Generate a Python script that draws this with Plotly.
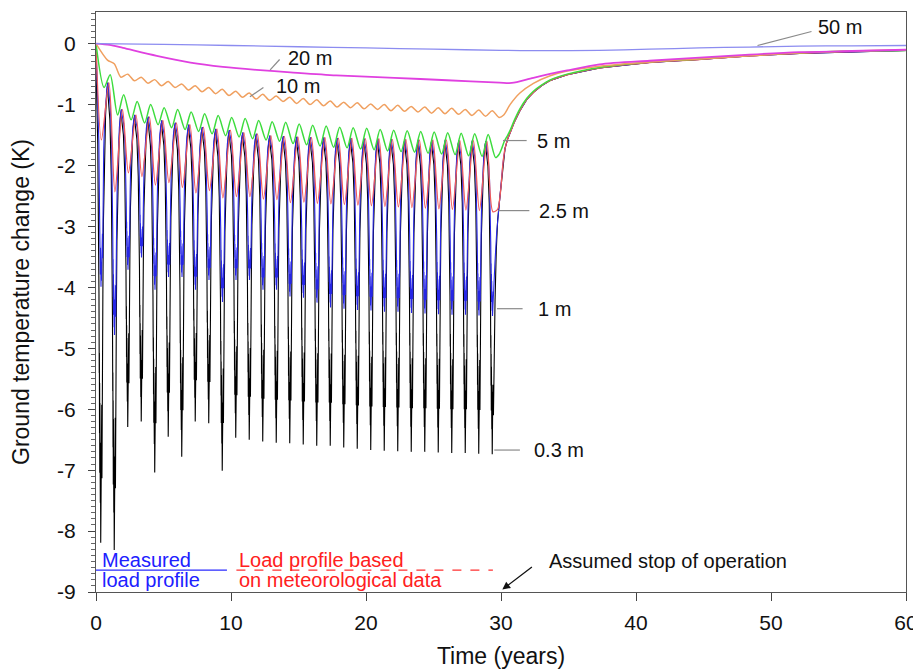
import plotly.graph_objects as go

# ---------------- data ----------------
# yearly winter minima (0.3 m and 1 m depth)
d03_trough = [-8.19, -8.31, -6.29, -6.20, -7.04, -6.45, -6.78, -6.20, -6.23, -7.01,
              -6.47, -6.50, -6.53, -6.55, -6.56, -6.58, -6.60, -6.60, -6.63, -6.65,
              -6.67, -6.68, -6.69, -6.70, -6.70, -6.71, -6.72, -6.72, -6.73, -6.74]
d1_trough = [-3.99, -4.78, -3.71, -3.51, -4.04, -3.83, -3.83, -4.04, -3.88, -4.24,
             -3.88, -3.88, -4.04, -4.04, -4.15, -4.17, -4.25, -4.33, -4.35, -4.37,
             -4.38, -4.40, -4.40, -4.42, -4.43, -4.44, -4.45, -4.45, -4.46, -4.47]
# 2.5 m: summer maxima (also the tops of the shallow curves) and winter minima
d25_peak = [-0.64, -1.08, -1.17, -1.20, -1.26, -1.30, -1.33, -1.37, -1.40, -1.42,
            -1.46, -1.48, -1.51, -1.52, -1.53, -1.54, -1.54, -1.55, -1.55, -1.56,
            -1.56, -1.57, -1.57, -1.58, -1.58, -1.58, -1.59, -1.59, -1.60]
d25_trough = [-1.58, -2.43, -2.12, -2.18, -2.32, -2.28, -2.36, -2.45, -2.41, -2.53,
              -2.51, -2.51, -2.55, -2.56, -2.61, -2.60, -2.62, -2.63, -2.64, -2.65,
              -2.66, -2.67, -2.68, -2.69, -2.70, -2.71, -2.72, -2.73, -2.74, -2.76]
# 5 m
d5_trough = [-0.72, -1.17, -1.25, -1.30, -1.33, -1.38, -1.41, -1.44, -1.48, -1.51,
             -1.53, -1.56, -1.58, -1.60, -1.64, -1.66, -1.68, -1.70, -1.71, -1.73,
             -1.74, -1.76, -1.77, -1.78, -1.80, -1.81, -1.82, -1.84, -1.85, -1.87]
d5_peak = [-0.51, -0.84, -0.95, -1.00, -1.05, -1.08, -1.12, -1.15, -1.18, -1.21,
           -1.23, -1.26, -1.28, -1.29, -1.32, -1.34, -1.35, -1.37, -1.38, -1.39,
           -1.41, -1.42, -1.43, -1.44, -1.45, -1.46, -1.47, -1.48, -1.49]
# 10 m
d10_trough = [-0.27, -0.55, -0.61, -0.65, -0.69, -0.72, -0.76, -0.79, -0.82, -0.85,
              -0.88, -0.91, -0.93, -0.95, -0.98, -1.00, -1.02, -1.04, -1.05, -1.07,
              -1.08, -1.10, -1.11, -1.12, -1.14, -1.15, -1.16, -1.18, -1.19, -1.21]
d10_peak = [-0.33, -0.50, -0.55, -0.59, -0.62, -0.66, -0.69, -0.72, -0.75, -0.78,
            -0.81, -0.83, -0.86, -0.88, -0.90, -0.92, -0.94, -0.96, -0.97, -0.99,
            -1.00, -1.01, -1.03, -1.04, -1.05, -1.06, -1.08, -1.09, -1.10]

# timing of the seasonal extremes within a year (years after start of each year)
phase_d03_min, phase_d1_min, phase_surf_max = 0.35, 0.37, 0.88
phase_d25_min, phase_d25_max = 0.40, 0.96
phase_d5_min, phase_d5_max = 0.60, 1.05
phase_d10_min, phase_d10_max = 0.85, 0.35

# shape of a winter spike of the shallow curves (time offset, share of the drop)
spike_dt = [-0.45, -0.32, -0.22, -0.16, -0.13, -0.11, -0.10, -0.09, -0.08, -0.07,
            -0.06, -0.05, -0.04, -0.03, -0.02, 0.0, 0.015, 0.03, 0.045, 0.06, 0.075,
            0.09, 0.105, 0.12, 0.135, 0.16, 0.20, 0.27, 0.36, 0.45]
spike_frac_d03 = [0.03, 0.08, 0.20, 0.35, 0.50, 0.66, 0.62, 0.78, 0.68, 0.86,
                  0.72, 0.90, 0.76, 0.92, 0.80, 1.0, 0.82, 0.93, 0.74, 0.90, 0.70,
                  0.86, 0.66, 0.80, 0.60, 0.45, 0.30, 0.16, 0.07, 0.02]
spike_frac_d1 = [0.03, 0.09, 0.22, 0.40, 0.58, 0.74, 0.70, 0.85, 0.76, 0.92,
                 0.80, 0.95, 0.84, 0.97, 0.86, 1.0, 0.88, 0.97, 0.82, 0.94, 0.78,
                 0.92, 0.74, 0.86, 0.66, 0.50, 0.33, 0.18, 0.08, 0.02]

# end of operation / recovery
d03_end_t = [29.40, 29.44, 29.49, 29.56, 29.65, 29.75, 29.88]
d03_end_v = [-5.6, -6.1, -5.0, -4.2, -3.4, -2.9, -2.6]
d1_end_t = [29.45, 29.55, 29.68, 29.78, 29.88]
d1_end_v = [-4.0, -3.6, -3.1, -2.85, -2.6]
d25_end_t = [29.75, 29.9]
d25_end_v = [-2.72, -2.55]
rec_t = [30.0, 30.15, 30.3, 30.5, 30.7, 31.0, 31.4, 31.9, 32.4, 33.0, 33.6, 34.9,
         37.3, 41.0, 44.7, 48.4, 52.1, 56.0, 60.0]
rec_v = [-2.35, -1.95, -1.72, -1.56, -1.45, -1.28, -1.10, -0.92, -0.80, -0.69, -0.61,
         -0.51, -0.40, -0.31, -0.26, -0.20, -0.16, -0.13, -0.11]
d5_end_t = [29.85, 30.05, 30.25, 30.5, 30.7, 31.0, 31.4, 31.9, 32.4, 33.0, 33.6, 34.9,
            37.3, 41.0, 44.7, 48.4, 52.1, 56.0, 60.0]
d5_end_v = [-1.82, -1.72, -1.60, -1.50, -1.41, -1.25, -1.07, -0.90, -0.78, -0.68, -0.60,
            -0.50, -0.39, -0.30, -0.25, -0.19, -0.15, -0.12, -0.11]
d10_end_t = [30.2, 30.67, 31.4, 32.4, 33.6, 34.9, 37.3, 41.0, 44.7, 48.4, 52.1, 56.0, 60.0]
d10_end_v = [-1.17, -1.00, -0.81, -0.65, -0.53, -0.45, -0.37, -0.30, -0.25, -0.20, -0.15,
             -0.12, -0.10]
d20_t = [0, 1, 2, 4.5, 7, 9.4, 11.9, 14.4, 17.8, 22.1, 26, 29.9, 30.8, 32.4, 34.9, 37.3,
         41, 44.7, 48.4, 52.1, 56, 60]
d20_v = [0, -0.02, -0.07, -0.20, -0.31, -0.38, -0.43, -0.47, -0.52, -0.56, -0.60, -0.64,
         -0.645, -0.56, -0.44, -0.34, -0.28, -0.23, -0.18, -0.14, -0.12, -0.10]
d50_t = [0, 5, 10, 15, 20, 25, 30, 33, 37.3, 41, 44.7, 48.4, 52.1, 56, 60]
d50_v = [0, -0.01, -0.03, -0.05, -0.07, -0.09, -0.11, -0.115, -0.11, -0.09, -0.07,
         -0.055, -0.04, -0.035, -0.03]

labels = ["0.3 m", "1 m", "2.5 m", "5 m", "10 m", "20 m", "50 m"]
x_ticks = [0, 10, 20, 30, 40, 50, 60]
y_ticks = [0, -1, -2, -3, -4, -5, -6, -7, -8, -9]


# ---------------- build the series ----------------
def spiky(troughs, t_min, fracs, peaks, t_max, end_t, end_v):
    t, v = [0.0], [0.0]
    n = len(troughs)
    for k, T in enumerate(troughs):
        tk = k + t_min
        prev = 0.0 if k == 0 else peaks[k - 1]
        last = k == n - 1
        for dt, f in zip(spike_dt, fracs):
            if dt < 0:
                if tk + dt <= 0.02:
                    continue
                t.append(tk + dt); v.append(prev + f * (T - prev))
            elif dt == 0:
                t.append(tk); v.append(T)
            elif not last:
                nxt = peaks[k]
                t.append(tk + dt); v.append(nxt + f * (T - nxt))
        if not last:
            t.append(k + t_max); v.append(peaks[k])
    return t + end_t + rec_t, v + end_v + rec_v


def wave(mins, t_min, maxs, t_max, max_first_year):
    pts = [(0.0, 0.0)]
    for k, m in enumerate(mins):
        pts.append((k + t_min, m))
    for j, m in enumerate(maxs):
        pts.append((j + max_first_year + t_max, m))
    pts.sort()
    return [p[0] for p in pts], [p[1] for p in pts]


x03, y03 = spiky(d03_trough, phase_d03_min, spike_frac_d03, d25_peak, phase_surf_max,
                 d03_end_t, d03_end_v)
x1, y1 = spiky(d1_trough, phase_d1_min, spike_frac_d1, d25_peak, phase_surf_max,
               d1_end_t, d1_end_v)
x25, y25 = wave(d25_trough, phase_d25_min, d25_peak, phase_d25_max, 0)
x25 += d25_end_t + rec_t
y25 += d25_end_v + rec_v
x5, y5 = wave(d5_trough, phase_d5_min, d5_peak, phase_d5_max, 0)
x5 += d5_end_t
y5 += d5_end_v
x10, y10 = wave(d10_trough, phase_d10_min, d10_peak, phase_d10_max, 1)
x10 += d10_end_t
y10 += d10_end_v

fig = go.Figure()
series = [
    (x03, y03, "#000000", 1.1, "linear"),
    (x1, y1, "#2626e6", 1.1, "linear"),
    (x25, y25, "#f05a5a", 1.3, "spline"),
    (x5, y5, "#3ddc3d", 1.5, "spline"),
    (x10, y10, "#f0a060", 1.5, "spline"),
    (d20_t, d20_v, "#e040e0", 1.8, "spline"),
    (d50_t, d50_v, "#8c8cf0", 1.3, "spline"),
]
for (xs, ys, col, w, shp), name in zip(series, labels):
    fig.add_trace(go.Scatter(x=xs, y=ys, mode="lines", name=name,
                             line=dict(color=col, width=w, shape=shp,
                                       smoothing=0.8 if shp == "spline" else None),
                             hoverinfo="skip"))

# ---------------- depth labels with leader lines ----------------
label_pos = {  # leader start (x,y), leader end, text anchor
    "50 m": ((49.0, -0.03), (53.0, 0.20), (53.3, 0.28)),
    "20 m": ((12.9, -0.43), (13.6, -0.26), (14.1, -0.23)),
    "10 m": ((11.4, -0.87), (12.4, -0.72), (13.2, -0.69)),
    "5 m": ((30.15, -1.59), (31.9, -1.59), (32.5, -1.59)),
    "2.5 m": ((29.8, -2.74), (32.1, -2.74), (32.7, -2.74)),
    "1 m": ((29.7, -4.35), (31.6, -4.35), (32.6, -4.35)),
    "0.3 m": ((29.5, -6.67), (31.4, -6.67), (32.3, -6.67)),
}
for name, (p0, p1, pt) in label_pos.items():
    fig.add_shape(type="line", x0=p0[0], y0=p0[1], x1=p1[0], y1=p1[1],
                  line=dict(color="#8a8a8a", width=1.2))
    fig.add_annotation(x=pt[0], y=pt[1], text=name, showarrow=False,
                       xanchor="left", yanchor="middle",
                       font=dict(size=20, color="#111111"))

# ---------------- in-plot legend and note ----------------
fig.add_shape(type="line", x0=0, x1=9.7, y0=-8.64, y1=-8.64,
              line=dict(color="#2a2aff", width=1.3))
fig.add_shape(type="line", x0=10.4, x1=29.4, y0=-8.64, y1=-8.64,
              line=dict(color="#ff3030", width=1.3, dash="dash"))
for txt, xx, yy, col in [("Measured", 0.3, -8.47, "#2020ff"),
                         ("load profile", 0.3, -8.81, "#2020ff"),
                         ("Load profile based", 10.45, -8.47, "#ff2020"),
                         ("on meteorological data", 10.45, -8.81, "#ff2020"),
                         ("Assumed stop of operation", 33.4, -8.49, "#111111")]:
    fig.add_annotation(x=xx, y=yy, text=txt, showarrow=False, xanchor="left",
                       yanchor="middle", font=dict(size=20, color=col))
fig.add_annotation(x=30.1, y=-8.96, ax=32.4, ay=-8.57, axref="x", ayref="y",
                   text="", showarrow=True, arrowhead=2, arrowsize=1.2,
                   arrowwidth=1.3, arrowcolor="#111111")

# ---------------- axes and layout ----------------
fig.update_xaxes(range=[0, 60], tickmode="array", tickvals=x_ticks,
                 ticktext=[str(v) for v in x_ticks],
                 ticks="outside", ticklen=8, tickwidth=1.2, tickcolor="#444",
                 ticklabelstandoff=4,
                 showline=True, linecolor="#555", linewidth=1.3, mirror=True,
                 showgrid=False, zeroline=False, automargin=False,
                 title=dict(text="Time (years)", font=dict(size=23), standoff=20),
                 tickfont=dict(size=21))
fig.update_yaxes(range=[-9, 0.52], tickmode="array", tickvals=y_ticks,
                 ticktext=[str(v) for v in y_ticks],
                 ticks="outside", ticklen=7, tickwidth=1.2, tickcolor="#444",
                 ticklabelstandoff=8,
                 minor=dict(dtick=0.1, ticks="outside", ticklen=4, tickcolor="#666"),
                 showline=True, linecolor="#555", linewidth=1.3, mirror=True,
                 showgrid=False, zeroline=False, automargin=False,
                 title=dict(text="Ground temperature change (K)", font=dict(size=23),
                            standoff=22),
                 tickfont=dict(size=21))
# the page adds an 8 px body margin, so the figure is sized to fit the window
fig.update_layout(width=913, height=661, showlegend=False,
                  margin=dict(l=88, r=15, t=4, b=77),
                  plot_bgcolor="white", paper_bgcolor="white",
                  font=dict(family="Liberation Sans, Arial, sans-serif", color="#111111"))

fig.write_html("out.html")
